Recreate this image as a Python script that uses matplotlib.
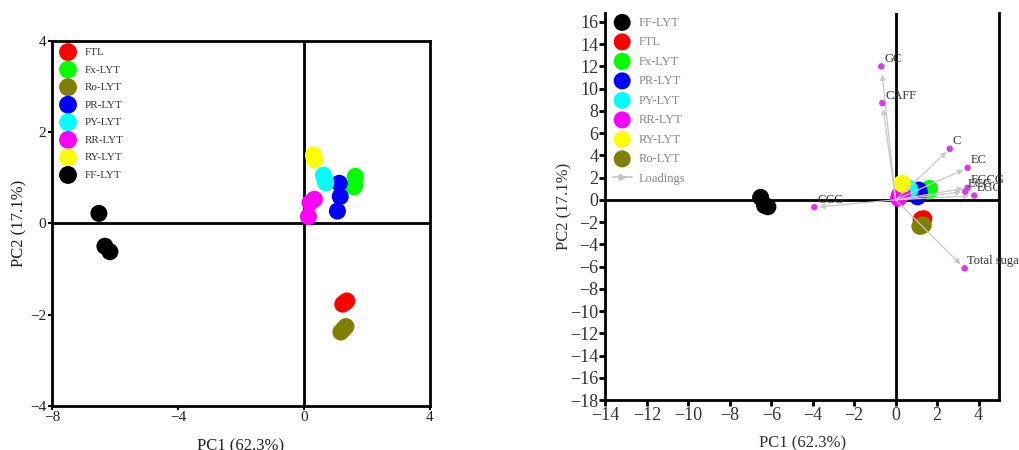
import matplotlib
matplotlib.use("Agg")
import matplotlib.pyplot as plt
from matplotlib.lines import Line2D
import numpy as np

plt.rcParams['font.family'] = ['Liberation Serif', 'DejaVu Serif']

# ---- data ----
groups = ["FF-LYT", "FTL", "Fx-LYT", "PR-LYT", "PY-LYT", "RR-LYT", "RY-LYT", "Ro-LYT"]
colors = {"FF-LYT": "#000000", "FTL": "#FF0000", "Fx-LYT": "#00FF00", "PR-LYT": "#0000FF",
          "PY-LYT": "#00FFFF", "RR-LYT": "#FF00FF", "RY-LYT": "#FFFF00", "Ro-LYT": "#808000"}
pc1 = {"FF-LYT": [-6.51, -6.32, -6.16],
       "FTL": [1.36, 1.30, 1.23],
       "Fx-LYT": [1.63, 1.61, 1.58],
       "PR-LYT": [1.12, 1.15, 1.06],
       "PY-LYT": [0.62, 0.66, 0.69],
       "RR-LYT": [0.14, 0.19, 0.33],
       "RY-LYT": [0.30, 0.32, 0.34],
       "Ro-LYT": [1.33, 1.25, 1.17]}
pc2 = {"FF-LYT": [0.22, -0.50, -0.62],
       "FTL": [-1.70, -1.73, -1.77],
       "Fx-LYT": [1.03, 0.84, 0.80],
       "PR-LYT": [0.88, 0.59, 0.27],
       "PY-LYT": [1.06, 0.97, 0.89],
       "RR-LYT": [0.15, 0.45, 0.53],
       "RY-LYT": [1.50, 1.44, 1.39],
       "Ro-LYT": [-2.26, -2.32, -2.38]}
left_order = ["FTL", "Fx-LYT", "Ro-LYT", "PR-LYT", "PY-LYT", "RR-LYT", "RY-LYT", "FF-LYT"]

load_names = ["GC", "CAFF", "C", "EC", "EGCG", "ECG", "EGC", "GCG", "Total sugar"]
load_x = [-0.69, -0.64, 2.61, 3.47, 3.47, 3.36, 3.79, -3.92, 3.33]
load_y = [12.0, 8.7, 4.59, 2.88, 1.08, 0.75, 0.39, -0.66, -6.16]

xlabel = "PC1 (62.3%)"
ylabel = "PC2 (17.1%)"

fig = plt.figure(figsize=(10.19, 4.5), dpi=100)

# ---- left panel ----
ax1 = fig.add_axes([0.051, 0.098, 0.371, 0.811])
for g in left_order:
    ax1.scatter(pc1[g], pc2[g], s=150, color=colors[g], edgecolors='none', label=g, zorder=3)
ax1.axhline(0, color='black', lw=2, zorder=2)
ax1.axvline(0, color='black', lw=2, zorder=2)
ax1.set_xlim(-8, 4)
ax1.set_ylim(-4, 4)
ax1.set_xticks([-8, -4, 0, 4])
ax1.set_yticks([-4, -2, 0, 2, 4])
for s in ax1.spines.values():
    s.set_linewidth(2)
ax1.tick_params(direction='out', length=3, width=1.5, labelsize=11, pad=1, labelcolor='#222222')
ax1.set_xlabel(xlabel, fontsize=12, labelpad=10, color='#222222')
ax1.set_ylabel(ylabel, fontsize=12, labelpad=2, color='#222222')
leg1 = ax1.legend(loc='upper left', frameon=False, fontsize=8, markerscale=1.05,
                  handletextpad=1.0, labelspacing=0.7, borderaxespad=0.0,
                  handlelength=1.0, bbox_to_anchor=(0.016, 0.995))
for t in leg1.get_texts():
    t.set_color('#333333')

# ---- right panel ----
ax2 = fig.add_axes([0.594, 0.111, 0.3867, 0.86])
for g in groups:
    ax2.scatter(pc1[g], pc2[g], s=150, color=colors[g], edgecolors='none', label=g, zorder=3)
ax2.axhline(0, color='black', lw=2, zorder=2)
ax2.axvline(0, color='black', lw=2, zorder=2)
for name, lx, ly in zip(load_names, load_x, load_y):
    ax2.annotate("", xy=(lx * 0.94, ly * 0.94), xytext=(0, 0),
                 arrowprops=dict(arrowstyle='-|>', color='#c8c8c8', lw=0.9,
                                 mutation_scale=8, shrinkA=0, shrinkB=0), zorder=4)
ax2.scatter(load_x, load_y, s=22, color='#D63BE8', edgecolors='none', zorder=5)
for name, lx, ly in zip(load_names, load_x, load_y):
    ax2.annotate(name, (lx, ly), xytext=(2, 1), textcoords='offset points',
                 fontsize=9, color='#333333', ha='left', va='bottom', zorder=6,
                 annotation_clip=False)
ax2.set_xlim(-14, 5)
ax2.set_ylim(-18, 16.8)
ax2.set_xticks(np.arange(-14, 5, 2))
ax2.set_yticks(np.arange(-18, 17, 2))
ax2.spines['top'].set_visible(False)
for k in ['left', 'right', 'bottom']:
    ax2.spines[k].set_linewidth(2)
ax2.tick_params(direction='out', length=4, width=2, labelsize=13, pad=1, labelcolor='#333333')
ax2.set_xlabel(xlabel, fontsize=12, labelpad=8, color='#333333')
ax2.set_ylabel(ylabel, fontsize=12, labelpad=-2, color='#333333')
handles, labels = ax2.get_legend_handles_labels()
handles.append(Line2D([0, 1], [0, 0], color='#c4c4c4', lw=1.2, marker='>', markersize=4,
                      markevery=[1]))
labels.append("Loadings")
leg2 = ax2.legend(handles, labels, loc='upper left', frameon=False, fontsize=9, markerscale=1.0,
                  handletextpad=0.6, labelspacing=0.6, borderaxespad=0.2,
                  handlelength=1.5, bbox_to_anchor=(0.0, 1.01))
for t in leg2.get_texts():
    t.set_color('#888888')

fig.savefig("out.png", dpi=100)
